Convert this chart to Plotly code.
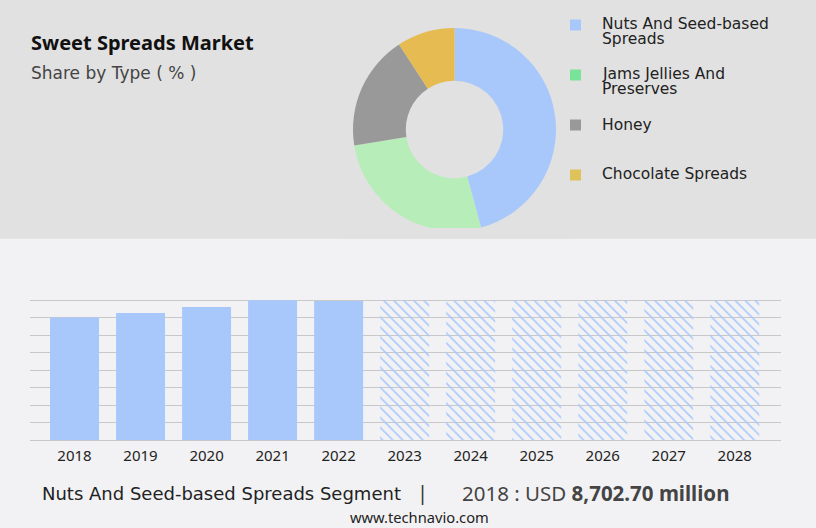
import plotly.graph_objects as go


OUTPUT_FILE = "out.html"

# donut: share by type (%)
SEGMENTS = ["Nuts And Seed-based Spreads", "Jams Jellies And Preserves", "Honey", "Chocolate Spreads"]
SHARES = [45.8, 26.7, 18.3, 9.2]
SLICE_COLORS = ["#a8c8fc", "#b6edb8", "#999999", "#e5bb52"]
LEGEND_COLORS = ["#a8c8fc", "#7ae39a", "#999999", "#dfc35a"]
LEGEND_LINES = [["Nuts And Seed-based", "Spreads"], ["Jams Jellies And", "Preserves"], ["Honey"], ["Chocolate Spreads"]]

# bars: segment size by year (USD million), forecast years hatched
YEARS = ["2018", "2019", "2020", "2021", "2022", "2023", "2024", "2025", "2026", "2027", "2028"]
VALUES = [8702.7, 9020, 9445, 9920, 9870, 9920, 9920, 9920, 9920, 9920, 9920]
FORECAST = [False, False, False, False, False, True, True, True, True, True, True]

W, H = 816, 528
BAR_BLUE = "#a8c8fc"
GOTHIC = "DejaVu Sans"
SANS = "Noto Sans"

Y_TOP = 10070  # a bit of headroom so the top gridline is still drawn
PLOT_BOTTOM = 440.3
PLOT_TOP = PLOT_BOTTOM - 140 * Y_TOP / 9920


def px(x):
    return x / W


def py(y):
    return 1 - y / H


def text(fig, s, x, y, size, color, family=SANS, xanchor="left"):
    fig.add_annotation(
        text=s, xref="paper", yref="paper",
        x=px(x), y=py(y), xanchor=xanchor, yanchor="middle", showarrow=False,
        font=dict(family=family, size=size, color=color),
    )


def build_figure():
    fig = go.Figure()

    fig.add_trace(
        go.Pie(
            labels=SEGMENTS,
            values=SHARES,
            hole=0.48,
            sort=False,
            direction="clockwise",
            rotation=0,
            marker=dict(colors=SLICE_COLORS, line=dict(width=0)),
            textinfo="none",
            showlegend=False,
            domain=dict(x=[px(353), px(556)], y=[py(231), py(28)]),
        )
    )

    fig.add_trace(
        go.Bar(
            x=YEARS,
            y=VALUES,
            marker=dict(
                color=BAR_BLUE,
                line=dict(width=0),
                pattern=dict(
                    shape=["\\" if f else "" for f in FORECAST],
                    fillmode="replace",
                    size=7.1,
                    solidity=0.22,
                ),
            ),
            showlegend=False,
            hovertemplate="%{x}: %{y:,.2f}<extra></extra>",
        )
    )

    fig.update_layout(
        width=W,
        height=H,
        paper_bgcolor="#f2f2f4",
        plot_bgcolor="rgba(0,0,0,0)",
        margin=dict(l=0, r=0, t=0, b=0),
        bargap=0.258,
        xaxis=dict(
            domain=[px(30), px(781)],
            type="category",
            range=[-0.674, 10.70],
            showgrid=False,
            zeroline=False,
            showline=False,
            ticks="",
            ticklabelstandoff=5,
            tickfont=dict(family=SANS, size=15, color="#222222"),
        ),
        yaxis=dict(
            domain=[py(PLOT_BOTTOM), py(PLOT_TOP)],
            range=[0, Y_TOP],
            tick0=0,
            dtick=1240,
            showgrid=True,
            gridcolor="#c8c8c8",
            gridwidth=1,
            zeroline=True,
            zerolinecolor="#c8c8c8",
            zerolinewidth=1,
            showticklabels=False,
        ),
    )

    # grey header panel behind the donut
    fig.add_shape(
        type="rect", xref="paper", yref="paper",
        x0=0, x1=1, y0=py(238.7), y1=1,
        fillcolor="#e1e1e1", line=dict(width=0), layer="below",
    )
    # donut is cut off a little above the panel edge
    fig.add_shape(
        type="rect", xref="paper", yref="paper",
        x0=px(340), x1=px(570), y0=py(238.7), y1=py(228),
        fillcolor="#e1e1e1", line=dict(width=0), layer="above",
    )

    text(fig, "<b>Sweet Spreads Market</b>", 29, 43, 20, "#111111")
    text(fig, "Share by Type ( % )", 29, 73, 17, "#444444", family=GOTHIC)

    first_line_y = [24.3, 74.3, 124.7, 174.3]
    square_y = [25, 75, 125, 175]
    for lines, color, y0, sy in zip(LEGEND_LINES, LEGEND_COLORS, first_line_y, square_y):
        fig.add_shape(
            type="rect", xref="paper", yref="paper",
            x0=px(570), x1=px(581), y0=py(sy + 5.5), y1=py(sy - 5.5),
            fillcolor=color, line=dict(width=0),
        )
        for i, line in enumerate(lines):
            text(fig, line, 599.5, y0 + i * 15, 15.5, "#222222", family=GOTHIC)

    text(fig, "Nuts And Seed-based Spreads Segment", 40, 493, 18, "#222222", family=GOTHIC)
    text(fig, "|", 422, 492, 20, "#333333", xanchor="center")
    text(fig, "2018 : USD <b>8,702.70 million</b>", 460, 493, 20.5, "#444444")
    text(fig, "www.technavio.com", 420, 517, 14.7, "#222222", xanchor="center")
    return fig


def main():
    fig = build_figure()
    fig.write_html(
        OUTPUT_FILE,
        config={"displayModeBar": False},
        post_script="document.body.style.margin='0px';",
    )


if __name__ == "__main__":
    main()
